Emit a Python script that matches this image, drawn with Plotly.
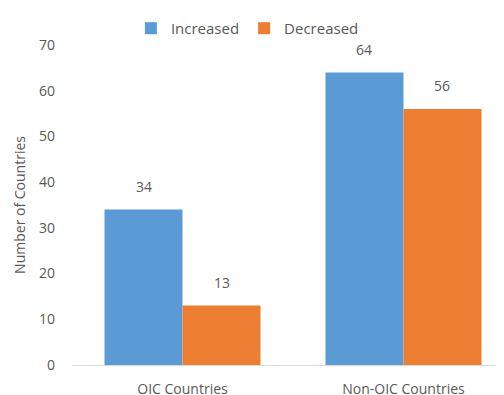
import plotly.graph_objects as go

categories = ["OIC Countries", "Non-OIC Countries"]
increased = [34, 64]
decreased = [13, 56]
series_names = ["Increased", "Decreased"]
colors = ["#5B9BD5", "#ED7D31"]
y_ticks = [0, 10, 20, 30, 40, 50, 60, 70]

FONT = "Open Sans"
TXT = "#595959"
xpos = list(range(len(categories)))

fig = go.Figure()
for name, vals, col in zip(series_names, [increased, decreased], colors):
    fig.add_trace(go.Bar(x=xpos, y=vals, name=name, marker=dict(color=col, line=dict(width=0))))

# value labels
for i, (a, b) in enumerate(zip(increased, decreased)):
    fig.add_annotation(x=i, y=a, text=str(a), xshift=-39, yshift=23, showarrow=False,
                       font=dict(family=FONT, size=14, color=TXT))
    fig.add_annotation(x=i, y=b, text=str(b), xshift=39, yshift=23, showarrow=False,
                       font=dict(family=FONT, size=14, color=TXT))

fig.update_layout(
    width=504, height=395,
    margin=dict(l=64, r=0, t=35, b=38),
    paper_bgcolor="white", plot_bgcolor="white",
    barmode="group", bargap=0.294, bargroupgap=0,
    font=dict(family=FONT, size=14, color=TXT),
    legend=dict(orientation="h", x=0.475, xanchor="center", xref="container",
                y=0.99, yref="container", yanchor="top",
                font=dict(family=FONT, size=15, color=TXT), itemwidth=30,
                traceorder="normal"),
    xaxis=dict(tickmode="array", tickvals=xpos, ticktext=categories,
               range=[-0.5, 1.491], showgrid=False, zeroline=False,
               showline=True, linecolor="#D9D9D9", linewidth=1, ticks="",
               ticklabelstandoff=11,
               automargin=False, tickfont=dict(family=FONT, size=14, color=TXT)),
    yaxis=dict(range=[0, 70], tickmode="array", tickvals=y_ticks, showgrid=False,
               zeroline=False, showline=False, ticks="", ticklabelstandoff=16,
               automargin=False,
               title=dict(text="Number of Countries", standoff=10,
                          font=dict(family=FONT, size=14, color=TXT)),
               tickfont=dict(family=FONT, size=14, color=TXT)),
)
fig.write_html("out.html")
